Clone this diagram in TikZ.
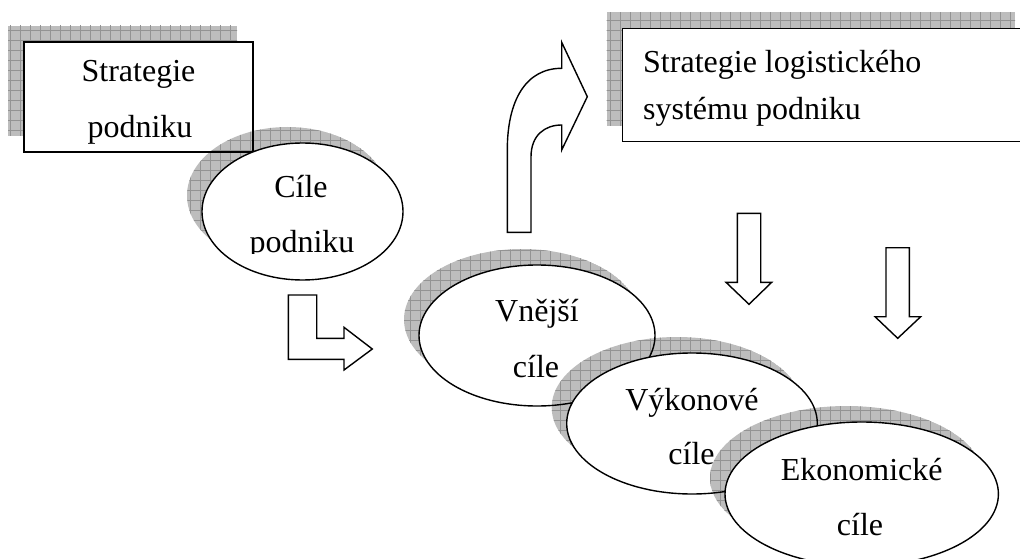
\documentclass[tikz,border=0pt]{standalone}
\usepackage{fontspec}
\setmainfont{Liberation Serif}
\tikzset{
  outline/.style={draw=black, line width=1.4pt},
  whitefill/.style={fill=white},
  blockarrow/.style={fill=white, draw=black, line width=1.4pt, line join=miter},
  lbl/.style={font=\fontsize{32}{38}\selectfont, inner sep=0pt, anchor=base},
  llbl/.style={lbl, anchor=base west},
}
% grey mesh shadow clipped to a given outline
\newcommand\meshshade[1]{%
  \begin{scope}
    \clip #1;
    \fill[gray!52] #1;
    \draw[gray!85, line width=0.7pt, step=10pt] (0,0) grid (1040,570);
  \end{scope}}
\begin{document}
\begin{tikzpicture}[x=1pt, y=-1pt]
  \useasboundingbox (0,0) rectangle (1020,559);
  \clip (0,0) rectangle (1020,559);

  % Strategie podniku box and Cile podniku ellipse
  \meshshade{(8,26) rectangle (237,136)}
  \fill[whitefill] (24,42) rectangle (253,152);
  \meshshade{(287.5,195.5) ellipse [x radius=100.5, y radius=68.5]}
  \draw[outline] (24,42) rectangle (253,152);
  \fill[whitefill] (302.5,211.5) ellipse [x radius=100.5, y radius=68.5];
  \draw[outline] (302.5,211.5) ellipse [x radius=100.5, y radius=68.5];

  \node[lbl] (sp1) at (138.5,82) {Strategie};
  \node[lbl] (sp2) at (140,138) {podniku};
  \node[lbl] (cp1) at (301,197) {Cíle};
  \begin{scope}
    \clip (200,200) rectangle (410,253.5);
    \node[lbl] (cp2) at (302,252) {podniku};
  \end{scope}

  % Strategie logistickeho systemu podniku box
  \meshshade{(606.7,12.3) rectangle (1015,125.7)}
  \fill[whitefill] (622.7,28.3) rectangle (1031,141.7);
  \draw[outline] (622.7,28.3) rectangle (1031,141.7);
  \node[llbl] (sl1) at (643,73) {Strategie logistického};
  \node[llbl] (sl2) at (643,120) {systému podniku};

  % block arrows
  \draw[blockarrow] (288.3,295) -- (316.7,295) -- (316.7,338.3) -- (344,338.3)
    -- (344,327.3) -- (372.3,349) -- (344,370) -- (344,359.3) -- (288.3,359.3) -- cycle;
  \draw[blockarrow] (507.3,232.3) -- (507.3,150)
    .. controls (507.3,100) and (526,68.3) .. (561.7,68.3)
    -- (561.7,42.3) -- (587.3,96.7) -- (561.7,150) -- (561.7,125)
    .. controls (545,125) and (531,135) .. (531,157) -- (531,232.3) -- cycle;
  \draw[blockarrow] (737.3,213.3) -- (760.7,213.3) -- (760.7,282.3) -- (771.7,282.3)
    -- (749,304.3) -- (726,282.3) -- (737.3,282.3) -- cycle;
  \draw[blockarrow] (886,247.7) -- (909.3,247.7) -- (909.3,316.7) -- (920.7,316.7)
    -- (897.7,338.3) -- (875,316.7) -- (886,316.7) -- cycle;

  % chain of goal ellipses
  \meshshade{(522,319.5) ellipse [x radius=118, y radius=70.5]}
  \fill[whitefill] (537,335.5) ellipse [x radius=118, y radius=70.5];
  \meshshade{(677,407.5) ellipse [x radius=125.3, y radius=70.5]}
  \draw[outline] (537,335.5) ellipse [x radius=118, y radius=70.5];
  \fill[whitefill] (692,423.5) ellipse [x radius=125.3, y radius=70.5];
  \meshshade{(846.7,478) ellipse [x radius=136.7, y radius=72]}
  \draw[outline] (692,423.5) ellipse [x radius=125.3, y radius=70.5];
  \fill[whitefill] (861.7,494) ellipse [x radius=136.7, y radius=72];
  \draw[outline] (861.7,494) ellipse [x radius=136.7, y radius=72];

  \node[lbl] (vc1) at (537,321.7) {Vnější};
  \node[lbl] (vc2) at (536,377) {cíle};
  \node[lbl] (kc1) at (692,410.7) {Výkonové};
  \node[lbl] (kc2) at (691.5,464) {cíle};
  \node[lbl] (ec1) at (861.7,480) {Ekonomické};
  \node[lbl] (ec2) at (860,535) {cíle};
\end{tikzpicture}
\end{document}
